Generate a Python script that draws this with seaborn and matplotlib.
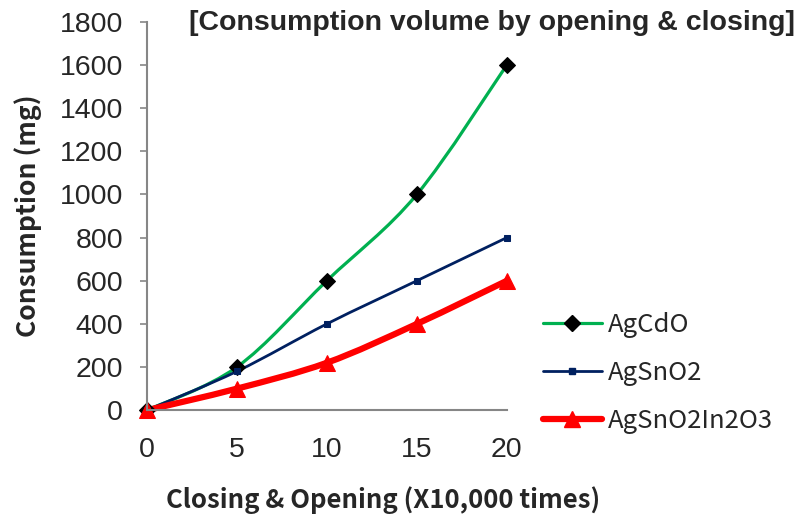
import numpy as np
import pandas as pd
import matplotlib
matplotlib.use("Agg")
import matplotlib.pyplot as plt
import seaborn as sns
from matplotlib.path import Path
from matplotlib.patches import PathPatch
from matplotlib.lines import Line2D

# data
cycles = [0, 5, 10, 15, 20]
ag_cdo = [0, 200, 600, 1000, 1600]
ag_sno2 = [0, 180, 400, 600, 800]
ag_sno2_in2o3 = [0, 100, 220, 400, 600]
series_names = ["AgCdO", "AgSnO2", "AgSnO2In2O3"]

df = pd.DataFrame({
    "cycles": cycles * 3,
    "value": ag_cdo + ag_sno2 + ag_sno2_in2o3,
    "series": [n for n in series_names for _ in cycles],
})

styles = {
    "AgCdO": dict(line="#00B050", lw=2.3, marker="D", mc="black", ms=8),
    "AgSnO2": dict(line="#002060", lw=2.0, marker="s", mc="#002060", ms=4.5),
    "AgSnO2In2O3": dict(line="#FF0000", lw=4.5, marker="^", mc="#FF0000", ms=11),
}

sns.set_theme(style="white")
plt.rcParams["font.family"] = ["Liberation Sans", "DejaVu Sans"]

fig = plt.figure(figsize=(8.02, 5.18), dpi=100)
ax = fig.add_axes([0.183, 0.208, 0.449, 0.750])


def smooth_path(xs, ys):
    # excel-like smoothed line: cubic bezier through the points
    pts = ax.transData.transform(np.column_stack([xs, ys]))
    verts = [pts[0]]
    codes = [Path.MOVETO]
    n = len(pts)
    for i in range(n - 1):
        p0 = pts[i - 1] if i > 0 else pts[i]
        p1, p2 = pts[i], pts[i + 1]
        p3 = pts[i + 2] if i + 2 < n else pts[i + 1]
        c1 = p1 + (p2 - p0) / 6.0
        c2 = p2 - (p3 - p1) / 6.0
        verts += [c1, c2, p2]
        codes += [Path.CURVE4] * 3
    verts = ax.transData.inverted().transform(np.array(verts))
    return Path(verts, codes)


ax.set_xlim(0, 20)
ax.set_ylim(0, 1800)

handles = []
for name in series_names:
    st = styles[name]
    sub = df[df["series"] == name]
    patch = PathPatch(smooth_path(sub["cycles"].values, sub["value"].values),
                      facecolor="none", edgecolor=st["line"], lw=st["lw"],
                      capstyle="round", joinstyle="round", clip_on=False)
    ax.add_patch(patch)
    sns.lineplot(data=sub, x="cycles", y="value", ax=ax, linestyle="",
                 marker=st["marker"], markersize=st["ms"], color=st["mc"],
                 markeredgecolor=st["mc"], clip_on=False, legend=False)
    handles.append(Line2D([], [], color=st["line"], lw=st["lw"], marker=st["marker"],
                          markersize=st["ms"], markerfacecolor=st["mc"],
                          markeredgecolor=st["mc"], solid_capstyle="round"))

ax.set_yticks(range(0, 1801, 200))
ax.set_xticks(cycles)
ax.tick_params(axis="y", labelsize=20.5, length=5, width=1.2, color="#868686",
               direction="out", left=True, pad=12)
ax.tick_params(axis="x", labelsize=20.5, length=0, pad=19)
for s in ["top", "right"]:
    ax.spines[s].set_visible(False)
for s in ["left", "bottom"]:
    ax.spines[s].set_color("#868686")
    ax.spines[s].set_linewidth(1.5)
ax.grid(False)

ax.set_xlabel("")
ax.set_ylabel("Consumption (mg)", family=["Noto Sans CJK KR"], fontweight="bold",
              fontsize=19, labelpad=12)
ax.yaxis.set_label_coords(-0.29, 0.5)
fig.text(0.478, 0.035, "Closing & Opening (X10,000 times)", family=["Noto Sans CJK KR"],
         fontweight="bold", fontsize=18.5, ha="center", va="center")
fig.text(0.614, 0.955, "[Consumption volume by opening & closing]", fontweight="bold",
         fontsize=20.5, ha="center", va="center")

leg = fig.legend(handles, series_names, loc="upper left", bbox_to_anchor=(0.648, 0.443),
                 frameon=False, prop={"family": "Noto Sans CJK KR", "size": 18.5},
                 handlelength=2.3, handletextpad=0.25, labelspacing=0.87)

fig.savefig("out.png", dpi=100)
